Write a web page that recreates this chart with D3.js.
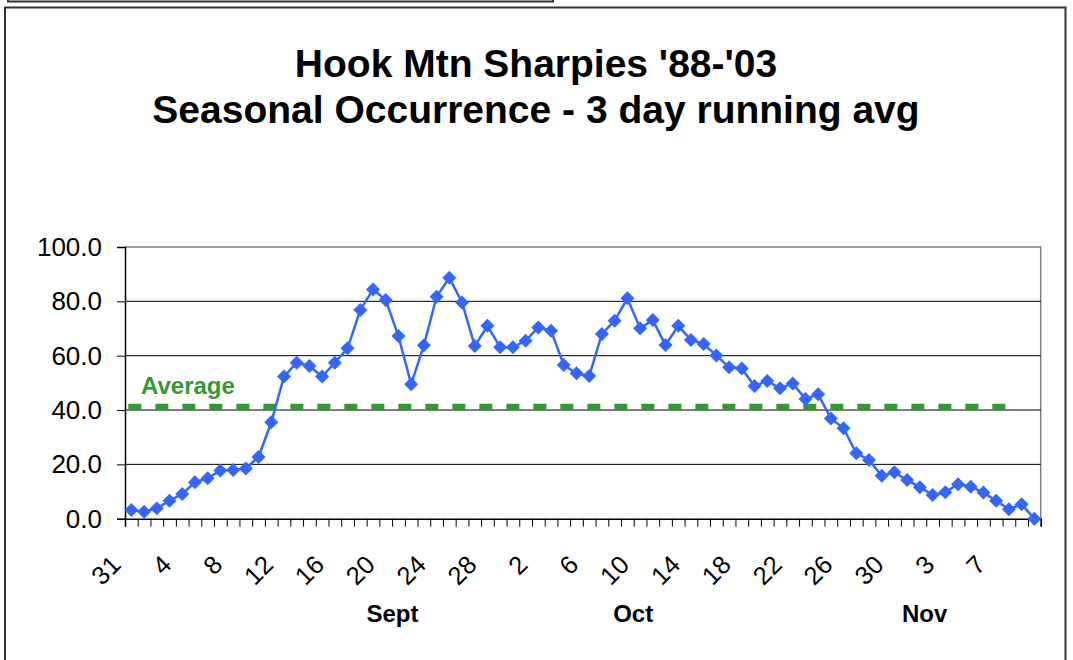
<!DOCTYPE html>
<html>
<head>
<meta charset="utf-8">
<script src="https://cdn.jsdelivr.net/npm/d3@7"></script>
<style>
  html, body { margin: 0; padding: 0; background: #fff; }
  svg { display: block; font-family: "Liberation Sans", Arial, Helvetica, sans-serif; }
</style>
</head>
<body>
<svg id="chart" width="1073" height="660"></svg>
<script>
// ---- data ----
const titleLines = ["Hook Mtn Sharpies '88-'03", "Seasonal Occurrence - 3 day running avg"];
// categories: Aug 31, Sep 1-30, Oct 1-31, Nov 1-10
const categories = [
  "31",
  "1","2","3","4","5","6","7","8","9","10","11","12","13","14","15","16","17","18","19","20","21","22","23","24","25","26","27","28","29","30",
  "1","2","3","4","5","6","7","8","9","10","11","12","13","14","15","16","17","18","19","20","21","22","23","24","25","26","27","28","29","30","31",
  "1","2","3","4","5","6","7","8","9","10"
];
const values = [
  3.2, 2.6, 3.8, 6.6, 9.1, 13.4, 14.9, 17.7, 17.9, 18.5,
  22.7, 35.5, 52.3, 57.4, 56.2, 52.3, 57.4, 62.7, 76.8, 84.4,
  80.5, 67.2, 49.5, 63.8, 81.7, 88.7, 79.6, 63.6, 71.0, 63.1,
  63.1, 65.5, 70.4, 69.2, 56.6, 53.5, 52.5, 68.0, 72.9, 81.1,
  70.1, 73.1, 63.9, 71.0, 65.8, 64.3, 60.1, 55.7, 55.3, 48.8,
  50.7, 48.0, 49.8, 44.1, 45.8, 36.9, 33.3, 24.1, 21.6, 15.8,
  17.1, 14.2, 11.6, 8.7, 9.7, 12.7, 11.8, 9.6, 6.6, 3.5,
  5.3, 0.0
];
const averageValue = 41.1;
const averageLabel = "Average";
const labelEvery = 4;
const yTicks = [0, 20, 40, 60, 80, 100];
const monthLabels = ["Sept", "Oct", "Nov"];
const monthCenters = [21.03, 39.96, 62.87];   // category-index positions of month captions

// ---- layout ----
const svg = d3.select("#chart");
const plot = { left: 125, right: 1040.7, top: 247, bottom: 518.7 };

const x = d3.scaleLinear().domain([0, categories.length]).range([plot.left, plot.right]);
const xc = i => x(i + 0.5);
const y = d3.scaleLinear().domain([0, 100]).range([plot.bottom, plot.top]);

// outer frames
svg.append("rect").attr("x", 8).attr("y", -10).attr("width", 545).attr("height", 11.5)
  .attr("fill", "none").attr("stroke", "#333").attr("stroke-width", 2);
svg.append("rect").attr("x", 5).attr("y", 7.5).attr("width", 1060.5).attr("height", 670)
  .attr("fill", "#fff").attr("stroke", "#333").attr("stroke-width", 2);

// title
svg.append("g").selectAll("text").data(titleLines).join("text")
  .attr("x", 536).attr("y", (d, i) => 76.5 + i * 46.6)
  .attr("text-anchor", "middle").attr("font-weight", "bold").attr("font-size", 39)
  .attr("fill", "#000").text(d => d);

// plot border (gray top/right)
svg.append("path")
  .attr("d", `M${plot.left},${plot.top}H${plot.right}V${plot.bottom}`)
  .attr("fill", "none").attr("stroke", "#808080").attr("stroke-width", 1.5);

// gridlines
svg.append("g").selectAll("line").data(yTicks.filter(t => t > 0 && t < 100)).join("line")
  .attr("x1", plot.left).attr("x2", plot.right)
  .attr("y1", d => y(d)).attr("y2", d => y(d))
  .attr("stroke", "#000").attr("stroke-width", 1);

// y axis
const yAxis = svg.append("g").attr("transform", `translate(${plot.left},0)`)
  .call(d3.axisLeft(y).tickValues(yTicks).tickSize(8).tickPadding(15).tickFormat(d3.format(".1f")));
yAxis.select(".domain").attr("stroke", "#000").attr("stroke-width", 1.5);
yAxis.selectAll(".tick line").attr("stroke", "#000");
yAxis.selectAll(".tick text").attr("font-size", 26).attr("fill", "#000")
  .attr("font-family", "Liberation Sans, Arial, sans-serif");

// x axis (tick marks at category boundaries)
const xAxis = svg.append("g").attr("transform", `translate(0,${plot.bottom})`)
  .call(d3.axisBottom(x).tickValues(d3.range(categories.length + 1)).tickSize(8).tickFormat(""));
xAxis.select(".domain").attr("stroke", "#000").attr("stroke-width", 1.5);
xAxis.selectAll(".tick line").attr("stroke", "#000");

// x labels
const labelIdx = d3.range(0, categories.length, labelEvery);
svg.append("g").selectAll("text").data(labelIdx).join("text")
  .attr("transform", i => `translate(${xc(i) - 15.5},560) rotate(-45)`)
  .attr("text-anchor", "end").attr("dy", "0.35em")
  .attr("font-size", 25.5).attr("fill", "#000")
  .text(i => categories[i]);

// month captions
svg.append("g").selectAll("text").data(monthLabels).join("text")
  .attr("x", (d, i) => x(monthCenters[i])).attr("y", 621.5)
  .attr("text-anchor", "middle").attr("font-weight", "bold").attr("font-size", 24)
  .attr("fill", "#000").text(d => d);

// average line
svg.append("line")
  .attr("x1", xc(0) - 3).attr("x2", xc(69) + 3)
  .attr("y1", y(averageValue)).attr("y2", y(averageValue))
  .attr("stroke", "#339933").attr("stroke-width", 6.5)
  .attr("stroke-dasharray", "13,14");
svg.append("text").attr("x", 141).attr("y", 394)
  .attr("font-weight", "bold").attr("font-size", 24).attr("fill", "#339933")
  .text(averageLabel);

// data line
const blue = "#3366FF";
svg.append("path").datum(values)
  .attr("d", d3.line().x((d, i) => xc(i)).y(d => y(d)))
  .attr("fill", "none").attr("stroke", blue).attr("stroke-width", 2.5);

// diamond markers
const sym = d3.symbol().type(d3.symbolSquare).size(98);
svg.append("g").selectAll("path").data(values).join("path")
  .attr("transform", (d, i) => `translate(${xc(i)},${y(d)}) rotate(45)`)
  .attr("d", sym()).attr("fill", blue);
</script>
</body>
</html>
